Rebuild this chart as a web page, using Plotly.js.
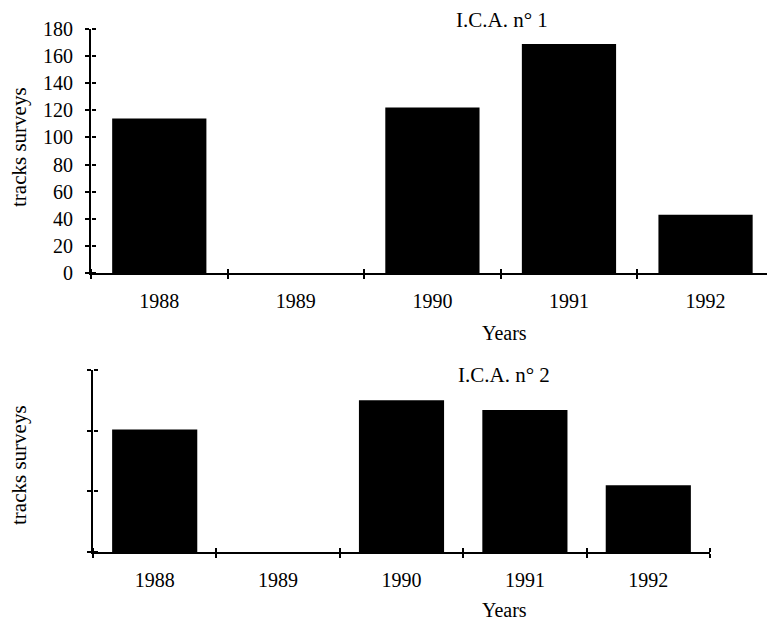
<!DOCTYPE html>
<html>
<head>
<meta charset="utf-8">
<script src="https://cdn.plot.ly/plotly-3.0.1.min.js"></script>
<style>html,body{margin:0;padding:0;background:#fff}#chart{width:767px;height:622px}</style>
</head>
<body>
<div id="chart"></div>
<script>
const years = ["1988", "1989", "1990", "1991", "1992"];
const ica1Values = [114, 0, 122, 169, 43];
const ica2Values = [101, 0, 125, 117, 55];
const ica1Ticks = [0, 20, 40, 60, 80, 100, 120, 140, 160, 180];
const ica2Ticks = [0, 50, 100, 150];
const titles = ["I.C.A. n° 1", "I.C.A. n° 2"];
const xTitle = "Years";
const yTitle = "tracks surveys";

const FONT = "Liberation Serif, Times New Roman, serif";
const W = 767, H = 622;
const px = v => v / W;
const py = v => 1 - v / H;

const xd1 = [px(91), 1], yd1 = [py(273), py(29)];
const xd2 = [px(93), px(710)], yd2 = [py(552), py(370)];

const traces = [
  {type: "bar", x: years, y: ica1Values, xaxis: "x", yaxis: "y",
   marker: {color: "#000", line: {width: 0}}, width: 0.69, hoverinfo: "x+y"},
  {type: "bar", x: years, y: ica2Values, xaxis: "x2", yaxis: "y2",
   marker: {color: "#000", line: {width: 0}}, width: 0.69, hoverinfo: "x+y"},
  {type: "bar", x: years, y: [0,0,0,0,0], xaxis: "x3", yaxis: "y3", hoverinfo: "skip"},
  {type: "bar", x: years, y: [0,0,0,0,0], xaxis: "x4", yaxis: "y4", hoverinfo: "skip"}
];

const tickStyle = {ticklen: 4, tickwidth: 2, tickcolor: "#000", showgrid: false, zeroline: false, fixedrange: true};
const tf = {family: FONT, size: 20, color: "#000"};

function xMain(domain, anchor, range) {
  return Object.assign({type: "category", domain: domain, anchor: anchor, range: range,
    showline: true, linecolor: "#000", linewidth: 2, ticks: "outside", tickson: "boundaries",
    showticklabels: true, ticklabelstandoff: 9, tickfont: tf}, tickStyle);
}
function xUp(overlay, range, posY) {
  return Object.assign({type: "category", overlaying: overlay, anchor: "free", position: posY, side: "top",
    range: range, showline: false, ticks: "outside", tickson: "boundaries", showticklabels: false}, tickStyle);
}
function yMain(domain, anchor, range, ticks, labels) {
  return Object.assign({domain: domain, anchor: anchor, range: range,
    showline: true, linecolor: "#000", linewidth: 2, ticks: "outside", tickvals: ticks,
    showticklabels: labels, ticklabelstandoff: 8, tickfont: tf}, tickStyle);
}
function yRight(overlay, range, ticks, posX) {
  return Object.assign({overlaying: overlay, anchor: "free", position: posX, side: "right",
    range: range, showline: false, ticks: "outside", tickvals: ticks, showticklabels: false}, tickStyle);
}

const layout = {
  width: W, height: H,
  margin: {l: 0, r: 0, t: 0, b: 0},
  paper_bgcolor: "#fff", plot_bgcolor: "rgba(0,0,0,0)",
  showlegend: false,
  font: {family: FONT, color: "#000"},
  xaxis: xMain(xd1, "y", [-0.5, 4.45]),
  yaxis: yMain(yd1, "x", [0, 180], ica1Ticks, true),
  xaxis2: xMain(xd2, "y2", [-0.5, 4.5]),
  yaxis2: yMain(yd2, "x2", [0, 150], ica2Ticks, false),
  xaxis3: xUp("x", [-0.5, 4.45], yd1[0]),
  yaxis3: yRight("y", [0, 180], ica1Ticks, xd1[0]),
  xaxis4: xUp("x2", [-0.5, 4.5], yd2[0]),
  yaxis4: yRight("y2", [0, 150], ica2Ticks, xd2[0]),
  annotations: [
    {text: titles[0], x: px(502), y: py(20), xref: "paper", yref: "paper", showarrow: false,
     xanchor: "center", yanchor: "middle", font: {family: FONT, size: 21, color: "#000"}},
    {text: titles[1], x: px(504), y: py(375), xref: "paper", yref: "paper", showarrow: false,
     xanchor: "center", yanchor: "middle", font: {family: FONT, size: 21, color: "#000"}},
    {text: xTitle, x: px(505), y: py(333), xref: "paper", yref: "paper", showarrow: false,
     xanchor: "center", yanchor: "middle", font: {family: FONT, size: 20, color: "#000"}},
    {text: xTitle, x: px(504), y: py(610), xref: "paper", yref: "paper", showarrow: false,
     xanchor: "center", yanchor: "middle", font: {family: FONT, size: 20, color: "#000"}},
    {text: yTitle, x: px(19), y: py(147), xref: "paper", yref: "paper", showarrow: false, textangle: -90,
     xanchor: "center", yanchor: "middle", font: {family: FONT, size: 21, color: "#000"}},
    {text: yTitle, x: px(19), y: py(465), xref: "paper", yref: "paper", showarrow: false, textangle: -90,
     xanchor: "center", yanchor: "middle", font: {family: FONT, size: 21, color: "#000"}}
  ]
};

Plotly.newPlot("chart", traces, layout, {displayModeBar: false, staticPlot: true});
</script>
</body>
</html>
